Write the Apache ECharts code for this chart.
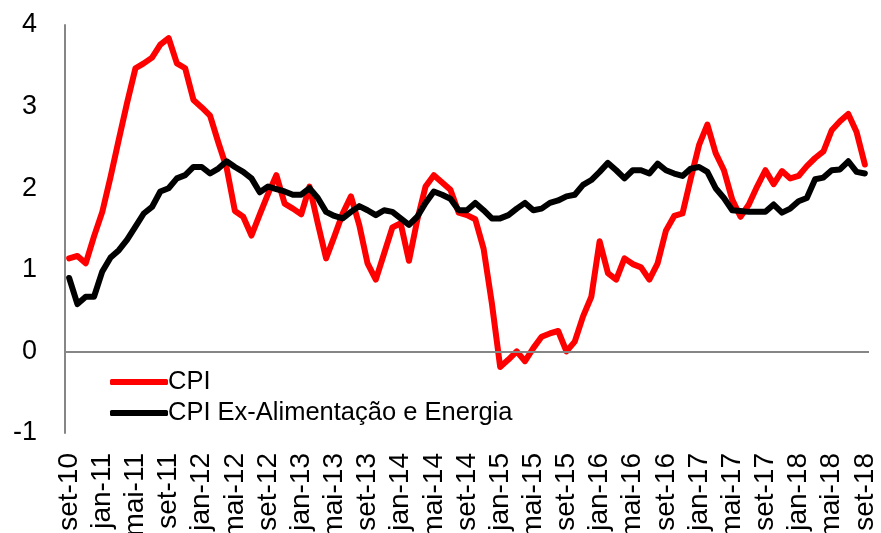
<!DOCTYPE html>
<html>
<head>
<meta charset="utf-8">
<script src="https://cdn.jsdelivr.net/npm/echarts@6/dist/echarts.min.js"></script>
<style>
  html, body { margin: 0; padding: 0; background: #fff; }
  #chart { width: 881px; height: 533px; }
</style>
</head>
<body>
<div id="chart"></div>
<script>
// month names (pt-BR) and the span of the series: set-10 .. set-18
const monthNames = ['jan', 'fev', 'mar', 'abr', 'mai', 'jun', 'jul', 'ago', 'set', 'out', 'nov', 'dez']
const startYear = 2010
const startMonth = 8 // set
const monthCount = 97

const categories = []
for (let i = 0; i < monthCount; i++) {
  const m = (startMonth + i) % 12
  const y = startYear + Math.floor((startMonth + i) / 12)
  categories.push(monthNames[m] + '-' + String(y).slice(2))
}

// CPI, % a/a
const cpi = [
  1.14, 1.17, 1.08, 1.41, 1.71, 2.14, 2.60, 3.05, 3.47, 3.53, 3.60, 3.76, 3.84,
  3.53, 3.47, 3.08, 2.99, 2.89, 2.56, 2.25, 1.72, 1.65, 1.42, 1.68, 1.93,
  2.16, 1.81, 1.75, 1.68, 2.02, 1.57, 1.14, 1.41, 1.69, 1.90, 1.55, 1.08,
  0.88, 1.20, 1.52, 1.57, 1.11, 1.61, 2.02, 2.16, 2.07, 1.98, 1.70, 1.67,
  1.62, 1.26, 0.59, -0.19, -0.10, 0.00, -0.12, 0.04, 0.18, 0.22, 0.25, 0.00,
  0.12, 0.43, 0.67, 1.35, 0.96, 0.88, 1.14, 1.07, 1.03, 0.88, 1.08, 1.48,
  1.66, 1.69, 2.12, 2.53, 2.78, 2.43, 2.22, 1.86, 1.65, 1.80, 2.02, 2.22,
  2.05, 2.21, 2.12, 2.15, 2.27, 2.37, 2.45, 2.71, 2.82, 2.91, 2.69, 2.29
]

// CPI ex-alimentação e energia, % a/a
const cpiCore = [
  0.90, 0.58, 0.67, 0.67, 0.98, 1.15, 1.24, 1.37, 1.53, 1.69, 1.77, 1.96, 2.00,
  2.12, 2.16, 2.26, 2.26, 2.18, 2.24, 2.33, 2.26, 2.20, 2.12, 1.95, 2.02,
  1.99, 1.96, 1.92, 1.92, 2.00, 1.88, 1.71, 1.66, 1.63, 1.71, 1.78, 1.73,
  1.67, 1.73, 1.71, 1.63, 1.55, 1.65, 1.82, 1.96, 1.92, 1.87, 1.73, 1.73,
  1.82, 1.73, 1.63, 1.63, 1.67, 1.75, 1.82, 1.73, 1.75, 1.82, 1.85, 1.90,
  1.92, 2.04, 2.10, 2.20, 2.31, 2.22, 2.12, 2.22, 2.22, 2.18, 2.30, 2.22,
  2.18, 2.15, 2.24, 2.26, 2.20, 2.00, 1.88, 1.73, 1.72, 1.71, 1.71, 1.71,
  1.80, 1.70, 1.75, 1.84, 1.88, 2.11, 2.13, 2.22, 2.23, 2.33, 2.20, 2.18
]

const seriesNames = ['CPI', 'CPI Ex-Alimentação e Energia']
const yTicks = { min: -1, max: 4, interval: 1 }

const font = 'Liberation Sans, Arial, sans-serif'
const chart = echarts.init(document.getElementById('chart'))

chart.setOption({
  animation: false,
  textStyle: { fontFamily: font },
  grid: { left: 65, right: 12, top: 25, bottom: 100, containLabel: false, outerBoundsMode: 'none' },
  legend: {
    data: seriesNames,
    orient: 'vertical',
    left: 105,
    top: 364,
    icon: 'roundRect',
    itemWidth: 58,
    itemHeight: 6,
    itemGap: 5,
    textStyle: { fontSize: 25.5, color: '#000', padding: [0, 0, 0, -5] }
  },
  xAxis: {
    type: 'category',
    data: categories,
    boundaryGap: true,
    axisLine: { show: false },
    axisTick: { show: false },
    axisLabel: {
      interval: 3,
      rotate: 90,
      margin: 20,
      fontSize: 28,
      color: '#000'
    },
    splitLine: { show: false }
  },
  yAxis: {
    type: 'value',
    min: yTicks.min,
    max: yTicks.max,
    interval: yTicks.interval,
    axisLine: { show: true, lineStyle: { color: '#868686', width: 2 } },
    axisTick: { show: false },
    axisLabel: { fontSize: 27, color: '#000', margin: 28 },
    splitLine: { show: false }
  },
  series: [
    {
      name: 'zero',
      type: 'line',
      data: [],
      z: 1,
      silent: true,
      markLine: {
        silent: true,
        symbol: 'none',
        label: { show: false },
        lineStyle: { color: '#868686', width: 2, type: 'solid' },
        data: [{ yAxis: 0 }]
      }
    },
    {
      name: seriesNames[0],
      type: 'line',
      data: cpi,
      z: 2,
      showSymbol: false,
      color: '#ff0000',
      lineStyle: { width: 6, color: '#ff0000', cap: 'round', join: 'round' }
    },
    {
      name: seriesNames[1],
      type: 'line',
      data: cpiCore,
      z: 3,
      showSymbol: false,
      color: '#000000',
      lineStyle: { width: 6, color: '#000000', cap: 'round', join: 'round' }
    }
  ]
})
</script>
</body>
</html>
